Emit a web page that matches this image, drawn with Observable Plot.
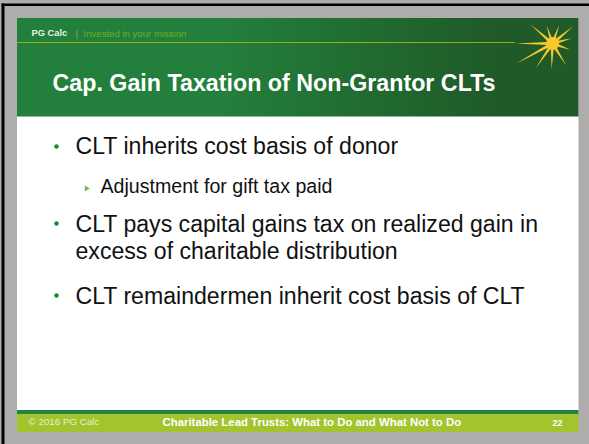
<!DOCTYPE html>
<html><head><meta charset="utf-8">
<style>html,body{margin:0;padding:0;background:#fff}svg{display:block}</style>
<script src="https://cdn.jsdelivr.net/npm/d3@7"></script>
<script src="https://cdn.jsdelivr.net/npm/@observablehq/plot@0.6"></script>
</head><body>
<script>
const brand = "PG Calc";
const separator = "|";
const tagline = "Invested in your mission";
const title = "Cap. Gain Taxation of Non-Grantor CLTs";
const bullets = ["CLT inherits cost basis of donor","CLT pays capital gains tax on realized gain in","excess of charitable distribution","CLT remaindermen inherit cost basis of CLT"];
const subBullet = "Adjustment for gift tax paid";
const copyright = "© 2016 PG Calc";
const footerTitle = "Charitable Lead Trusts: What to Do and What Not to Do";
const pageNumber = "22";
const rayAngles = [270,311,342,20,50,75,109,148,182,214,241];
const rayLengths = [37,29.5,19,19.5,27,20,19,26,26,30,42];

const font = "Liberation Sans, Arial, sans-serif";
const bulletRows = [146,224,251,296];
const bulletDots = [146,223,295];
const spike = {draw(c,l,r){c.moveTo(-r,0);c.lineTo(0,-l);c.lineTo(r,0);c.closePath();}};
const rays = rayAngles.map((a,i)=>({a,l:rayLengths[i]}));
const box = (x1,y1,x2,y2,fill,extra={}) => Plot.rect([0],{x1:()=>x1,x2:()=>x2,y1:()=>y1,y2:()=>y2,fill,...extra});
const label = (text,x,y,fontSize,fill,extra={}) => Plot.text([text],{x:()=>x,y:()=>y,text:d=>d,fontSize,fill,textAnchor:"start",lineAnchor:"middle",fontFamily:font,...extra});

const plot = Plot.plot({
  width:589,height:444,margin:0,
  style:{background:"#fff",fontFamily:font},
  x:{domain:[0,589],range:[0,589],axis:null},
  y:{domain:[0,444],range:[0,444],axis:null},
  length:{type:"identity"},
  marks:[
    () => {const s=d3.create("svg:defs");const g=s.append("linearGradient").attr("id","hdr");
      g.append("stop").attr("offset","0%").attr("stop-color","#23803c");
      g.append("stop").attr("offset","35%").attr("stop-color","#23803c");
      g.append("stop").attr("offset","85%").attr("stop-color","#1f5a28");
      g.append("stop").attr("offset","100%").attr("stop-color","#1f5a28");return s.node();},
    box(0,0,589,444,"#aeadab"),
    box(1.5,3.5,589,6,"#000"),
    box(1.5,3.5,4.5,444,"#000"),
    box(17,18,578.5,414,"#fff"),
    box(17,18,578.5,116.5,"url(#hdr)"),
    box(17,42,515,43,"#8fb30f"),
    box(17,410,578.5,414,"#22843e"),
    box(17,414,578.5,432,"#a3c42c"),
    label(brand,31,32.5,9.3,"#e8f0e4",{fontWeight:"bold"}),
    label(separator,75,33,9.6,"#7fb32a"),
    label(tagline,83,33,9.6,"#6fae1e"),
    label(title,52,83.5,23.25,"#fff",{fontWeight:"bold"}),
    Plot.dot(bulletDots,{x:()=>56,y:d=>d,r:2.2,fill:"#0d8a2c"}),
    Plot.text(bullets,{x:()=>75,y:(d,i)=>bulletRows[i],text:d=>d,fontSize:23.1,fill:"#111",textAnchor:"start",lineAnchor:"middle",fontFamily:font}),
    Plot.dot([188],{x:()=>86,y:d=>d,r:2.2,symbol:"triangle",rotate:90,fill:"#7cb35a"}),
    label(subBullet,100,186,19.6,"#111"),
    label(copyright,28,421.5,9.8,"#e8efd0"),
    label(footerTitle,162,422,11.4,"#fff",{fontWeight:"bold"}),
    label(pageNumber,552,423,9,"#fff",{fontWeight:"bold"}),
    Plot.vector(rays,{x:()=>552,y:()=>43,rotate:"a",length:"l",r:1.8,shape:spike,anchor:"start",fill:"#f6c72f",stroke:"none"}),
    Plot.dot([0],{x:()=>552,y:()=>43,r:6.5,fill:"#f6c72f"})
  ]
});
document.body.append(plot);
</script>
</body></html>
